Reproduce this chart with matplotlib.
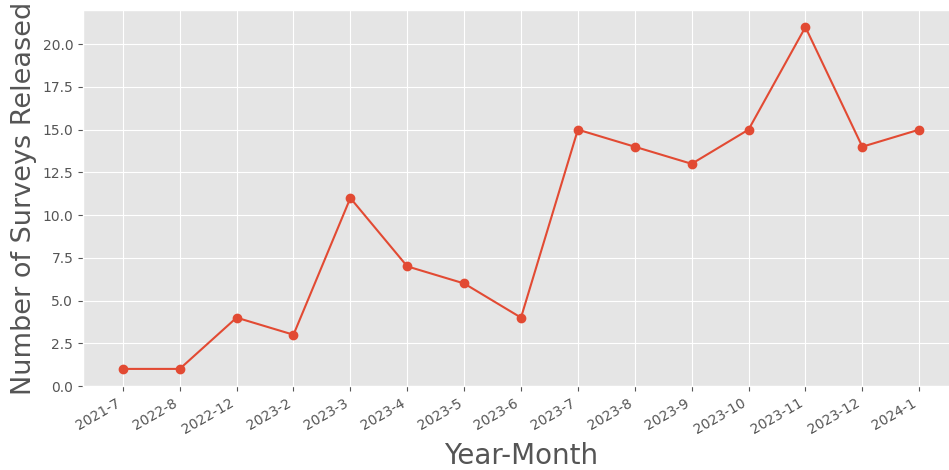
import matplotlib
matplotlib.use("Agg")
import matplotlib.pyplot as plt

plt.style.use('ggplot')

months = ['2021-7', '2022-8', '2022-12', '2023-2', '2023-3', '2023-4', '2023-5',
          '2023-6', '2023-7', '2023-8', '2023-9', '2023-10', '2023-11', '2023-12', '2024-1']
counts = [1, 1, 4, 3, 11, 7, 6, 4, 15, 14, 13, 15, 21, 14, 15]

fig = plt.figure(figsize=(9.49, 4.70), dpi=100)
ax = fig.add_axes([83 / 949, 1 - 386 / 470, (959 - 83) / 949, (386 - 10) / 470])

ax.plot(months, counts, marker='o', color='#E24A33')
ax.set_ylim(bottom=0)
ax.set_xlabel('Year-Month', fontsize=20)
ax.set_ylabel('Number of Surveys Released', fontsize=19.5)
plt.setp(ax.get_xticklabels(), rotation=30, ha='right')

fig.savefig('out.png', dpi=100)
